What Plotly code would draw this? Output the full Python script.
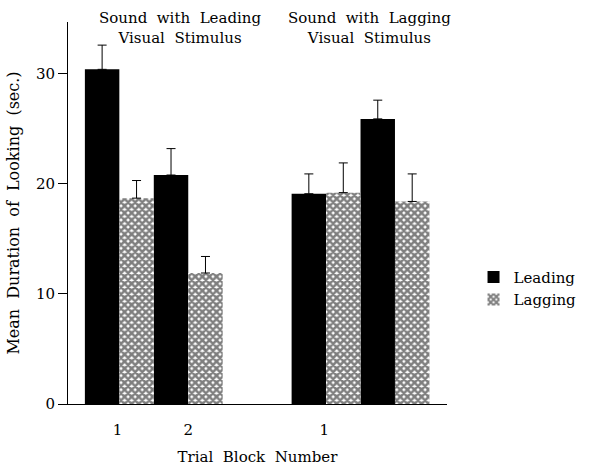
import plotly.graph_objects as go

# Data
lead_x = [0, 2, 6, 8]
lead_vals = [30.4, 20.8, 19.1, 25.9]
lead_err = [2.2, 2.4, 1.8, 1.7]

lag_x = [1, 3, 7, 9]
lag_vals = [18.7, 11.9, 19.2, 18.4]
lag_err = [1.6, 1.5, 2.7, 2.5]

tick_pos = [0.45, 2.5, 6.45]
tick_labels = ["1", "2", "1"]

FONT = "DejaVu Serif"
FS = 15

fig = go.Figure()
fig.add_trace(go.Bar(
    x=lead_x, y=lead_vals, width=1, name="Leading",
    marker=dict(color="black", line=dict(width=0)),
    error_y=dict(type="data", array=lead_err, arrayminus=[0]*4, symmetric=False,
                 color="black", thickness=1, width=4.5),
))
fig.add_trace(go.Bar(
    x=lag_x, y=lag_vals, width=1, name="Lagging",
    marker=dict(color="white", line=dict(width=0),
                pattern=dict(shape="x", fgcolor="black", bgcolor="white",
                             size=5, solidity=0.75, fillmode="overlay")),
    error_y=dict(type="data", array=lag_err, arrayminus=[0]*4, symmetric=False,
                 color="black", thickness=1, width=4.5),
))

fig.update_layout(
    width=594, height=466,
    margin=dict(l=68, r=144, t=22, b=62),
    plot_bgcolor="white", paper_bgcolor="white",
    font=dict(family=FONT, size=FS, color="black"),
    barmode="overlay",
    showlegend=True,
    legend=dict(x=1.07, y=0.375, xanchor="left", yanchor="top",
                font=dict(family=FONT, size=FS), tracegroupgap=0,
                bgcolor="rgba(0,0,0,0)"),
    xaxis=dict(range=[-0.99, 10.01], showline=True, linecolor="black", linewidth=1,
               ticks="", tickvals=tick_pos, ticktext=tick_labels, showgrid=False,
               zeroline=False, ticklabelstandoff=12, automargin=False,
               title=dict(text="Trial\u00a0 Block\u00a0 Number", standoff=16,
                          font=dict(family=FONT, size=FS))),
    yaxis=dict(range=[0, 34.7], showline=True, linecolor="black", linewidth=1,
               ticks="outside", ticklen=9, tickcolor="black", tickvals=[0, 10, 20, 30],
               showgrid=False, zeroline=False, automargin=False,
               title=dict(text="Mean\u00a0 Duration\u00a0 of\u00a0 Looking\u00a0 (sec.)", standoff=12,
                          font=dict(family=FONT, size=16))),
    annotations=[
        dict(text="Sound\u00a0 with\u00a0 Leading<br>Visual\u00a0 Stimulus", x=181, y=28,
             xref="paper", yref="paper", showarrow=False),
        dict(text="Sound\u00a0 with\u00a0 Lagging<br>Visual\u00a0 Stimulus", x=372, y=28,
             xref="paper", yref="paper", showarrow=False),
    ],
)

pw, ph = 594 - 68 - 144, 466 - 22 - 62
for a in fig.layout.annotations:
    a.x = (a.x - 68) / pw
    a.y = (404 - a.y) / ph
    a.xanchor = "center"
    a.yanchor = "middle"
    a.font = dict(family=FONT, size=FS)

fig.write_html("out.html")
